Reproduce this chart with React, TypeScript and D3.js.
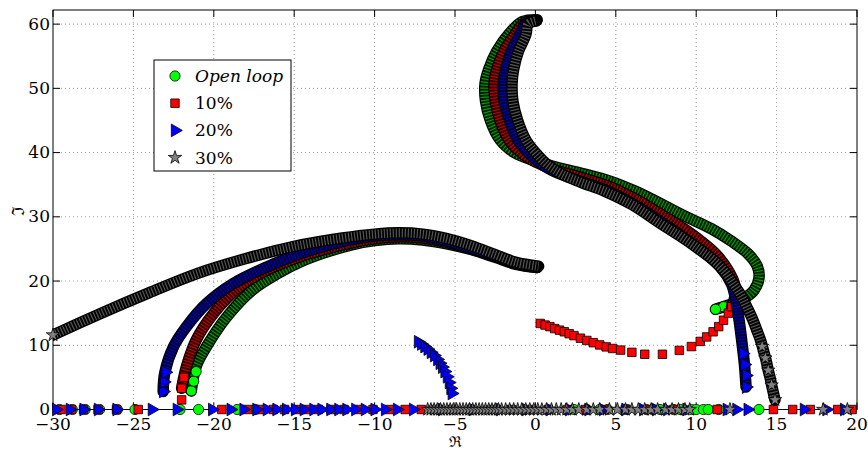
import React from "react";
import * as d3 from "d3";

type Pt = [number, number];

// axes
const xTicks = [-30, -25, -20, -15, -10, -5, 0, 5, 10, 15, 20];
const yTicks = [0, 10, 20, 30, 40, 50, 60];

// ---- Open loop (green circles)
const greenLower: Pt[] = [[-21.4, 2.9], [-21.1, 6.7], [-20.45, 9.8], [-19.2, 14.4], [-17.6, 18.6], [-16, 21.2], [-14.6, 23.0], [-13, 24.5], [-11.5, 25.6], [-10, 26.3], [-8.5, 26.6], [-7, 26.4], [-5.5, 25.8], [-4, 24.9], [-2.5, 23.7], [-1.2, 22.6], [0.1, 22.1]];
const greenUpper: Pt[] = [[0.1, 60.7], [-0.8, 60.4], [-1.6, 58.6], [-2.4, 55.8], [-2.9, 53], [-3.13, 50.8], [-3.1, 48], [-2.8, 45], [-2.2, 42], [-1.3, 40], [0, 38.7], [1.5, 37.6], [3, 36.7], [4.6, 35.6], [6.2, 34.0], [7.75, 32.1], [9.3, 30.1], [10.9, 28.2], [12.2, 26.2], [13.2, 24.3], [13.8, 22.3], [13.9, 20.4], [13.6, 18.6], [13.1, 17.5], [12.4, 16.6], [11.7, 16.0], [11.2, 15.6]];
const greenTips: Pt[] = [[-21.4, 2.9], [-21.25, 4.4], [-21.1, 5.9], [11.7, 16.0], [11.2, 15.6]];
const greenReal = [-29.6, -28.8, -28.0, -27.1, -26.0, -24.9, -22.1, -20.95, -18.55, -17.4, 2.4, 3.2, 4.0, 4.5, 5.7, 6.9, 7.3, 7.75, 8.6, 9.0, 9.7, 10.0, 10.45, 10.75, 11.4, 13.9];

// ---- 10% (red squares)
const redLower: Pt[] = [[-22.0, 3.3], [-21.7, 6.7], [-21.1, 10.8], [-20.0, 15.0], [-18.4, 19.1], [-16.7, 21.7], [-14.6, 23.8], [-13, 25.0], [-11.5, 25.9], [-10, 26.6], [-8.5, 26.9], [-7, 26.7], [-5.5, 26.0], [-4, 25.0], [-2.5, 23.8], [-1.2, 22.7], [0.1, 22.1]];
const redUpper: Pt[] = [[0.1, 60.6], [-0.7, 60.2], [-1.25, 58.5], [-1.95, 55.8], [-2.4, 53], [-2.57, 50.8], [-2.5, 48], [-2.2, 45], [-1.65, 42], [-0.8, 39.8], [0.3, 38.2], [1.5, 37.1], [3, 36.0], [4.6, 34.7], [6.2, 32.8], [7.75, 30.5], [9.2, 28.2], [10.3, 26.2], [11.3, 24.0], [12.0, 21.6], [12.4, 19.4], [12.4, 17.5], [12.2, 16.0]];
const redTips: Pt[] = [[-22.0, 1.5], [-22.0, 3.3], [-21.85, 5.0]];
const redLoop: Pt[] = [[0.3, 13.4], [0.6, 13.15], [0.9, 12.9], [1.2, 12.6], [1.5, 12.35], [1.8, 12.1], [2.1, 11.8], [2.4, 11.5], [2.8, 11.1], [3.2, 10.75], [3.6, 10.4], [4.0, 10.05], [4.4, 9.75], [4.8, 9.5], [5.3, 9.25], [6.0, 8.9], [6.8, 8.6], [7.9, 8.6], [8.95, 9.2], [9.7, 9.8], [10.25, 10.6], [10.65, 11.3], [11.05, 12.1], [11.4, 12.9], [11.7, 13.9], [12.0, 15.0], [12.2, 16.0]];
const redReal = [-29.5, -28.85, -28.1, -27.2, -26.05, -24.7, -19.5, -17.9, -17.0, -16.3, -15.6, -14.9, -14.2, -13.5, -12.7, -11.9, -11.0, -10.1, -9.1, -8.1, -7.1, -6.3, -5.2, -4.0, -2.7, -1.5, -0.4, 0.8, 2.0, 3.1, 4.3, 5.6, 7.0, 8.6, 11.3, 14.8, 16.0, 17.1, 18.8, 19.7];

// ---- 20% (blue triangles)
const blueLower: Pt[] = [[-23.15, 2.8], [-23.05, 5.7], [-22.5, 9.8], [-21.7, 12.9], [-20.45, 16.5], [-18.8, 19.6], [-16.7, 22.2], [-14.6, 24.3], [-13, 25.5], [-11.5, 26.4], [-10, 27.0], [-8.5, 27.2], [-7, 27.0], [-5.5, 26.2], [-4, 25.1], [-2.5, 23.9], [-1.2, 22.8], [0.1, 22.2]];
const blueUpper: Pt[] = [[0.05, 60.5], [-0.6, 60.1], [-0.95, 58.4], [-1.5, 55.8], [-1.85, 53], [-2.0, 50.8], [-1.95, 48], [-1.6, 45], [-1.1, 42], [-0.4, 39.9], [0.5, 38.0], [1.5, 36.7], [3, 35.4], [4.6, 33.9], [6.2, 31.8], [7.75, 29.3], [9.2, 26.8], [10.4, 24.6], [11.5, 22.2], [12.2, 19.5], [12.5, 16.5], [12.7, 13.3], [12.85, 10.3], [13.0, 7.0], [13.1, 3.5]];
const blueTips: Pt[] = [[-23.15, 2.8], [-23.1, 4.3], [-23.0, 5.8], [13.1, 3.5], [13.1, 5.3], [13.0, 7.0], [12.9, 8.7]];
const blueSmall: Pt[] = [[-7.3, 10.55], [-7.1, 10.2], [-6.9, 9.8], [-6.7, 9.4], [-6.5, 8.9], [-6.3, 8.4], [-6.1, 7.8], [-5.95, 7.2], [-5.8, 6.6], [-5.65, 5.9], [-5.5, 5.1], [-5.38, 4.2], [-5.28, 3.3], [-5.2, 2.5]];
const blueReal = [-29.8, -28.95, -28.1, -27.2, -26.05, -23.85, -22.3, -20.1, -18.95, -18.15, -17.35, -16.7, -16.1, -15.5, -14.95, -14.4, -13.8, -13.3, -12.75, -12.25, -11.75, -11.2, -10.6, -10.0, -9.35, -8.6, -7.6, -5.8, -3.9, -2.2, -0.6, 0.9, 2.1, 3.3, 4.2, 5.6, 6.7, 7.5, 8.2, 9.4, 11.9, 12.5, 13.2, 16.7, 18.1, 19.2];

// ---- 30% (grey pentagrams)
const starLower: Pt[] = [[-30.5, 11.0], [-30, 11.6], [-27, 15.0], [-24, 18.2], [-21, 21.2], [-18, 23.5], [-15, 25.4], [-12, 26.7], [-10, 27.3], [-8.5, 27.5], [-7, 27.3], [-5.5, 26.6], [-4, 25.5], [-2.5, 24.1], [-1.2, 22.9], [0.2, 22.3]];
const starUpper: Pt[] = [[0, 60.5], [-0.45, 60], [-0.6, 58.3], [-1.05, 55.8], [-1.35, 53], [-1.45, 50.8], [-1.4, 48], [-1.1, 45], [-0.6, 42], [0.0, 40.0], [0.7, 38.2], [1.6, 36.7], [2.8, 35.4], [4.3, 34.0], [6.0, 31.9], [7.75, 29.0], [9.0, 27.0], [10.1, 25.1], [11.06, 23.3], [11.8, 21.4], [12.3, 19.6], [12.8, 17.7], [13.14, 16.0], [13.5, 14.1], [13.76, 12.4], [14.0, 10.8], [14.17, 9.3], [14.35, 7.6], [14.48, 6.1], [14.6, 4.9], [14.69, 3.8], [14.9, 1.5]];
const starTips: Pt[] = [[-30, 11.6], [14.9, 1.5], [14.69, 3.8], [14.48, 6.1], [14.3, 8.0], [14.1, 9.8]];
const starReal = [-6.7, -6.5, -6.3, -6.1, -5.9, -5.7, -5.5, -5.3, -5.1, -4.9, -4.7, -4.5, -4.3, -4.1, -3.9, -3.7, -3.5, -3.3, -3.1, -2.9, -2.7, -2.5, -2.3, -2.1, -1.85, -1.6, -1.35, -1.1, -0.85, -0.6, -0.35, -0.1, 0.15, 0.4, 0.7, 1.0, 1.3, 1.6, 1.95, 2.3, 2.7, 3.2, 3.6, 4.0, 4.6, 5.1, 5.6, 6.0, 6.4, 6.8, 7.2, 7.6, 8.1, 8.5, 8.9, 9.3, 9.6, 12.1, 17.9, 19.4];

const W = 868;
const H = 452;
const L = 53, R = 857, T = 10, B = 409.5;

const x = d3.scaleLinear().domain([-30, 20]).range([L, R]);
const y = d3.scaleLinear().domain([0, 62.2]).range([B, T]);

const serif = "'DejaVu Serif', serif";

const series = [
  { label: "Open loop", italic: true, type: d3.symbolCircle, size: 82, rot: 0, fill: "#00ff00", base: "#001c00", stripe: "#009a00",
    bands: [greenLower, greenUpper], tips: greenTips, real: greenReal, extra: [] as Pt[][] },
  { label: "10%", italic: false, type: d3.symbolSquare, size: 72, rot: 0, fill: "#ff0000", base: "#2a0000", stripe: "#c00000",
    bands: [redLower, redUpper], tips: redTips, real: redReal, extra: [redLoop] },
  { label: "20%", italic: false, type: d3.symbolTriangle, size: 70, rot: 90, fill: "#0000ff", base: "#00002a", stripe: "#0000b8",
    bands: [blueLower, blueUpper], tips: blueTips, real: blueReal, extra: [blueSmall] },
  { label: "30%", italic: false, type: d3.symbolStar, size: 55, rot: 0, fill: "#808080", base: "#000000", stripe: "#555555",
    bands: [starLower, starUpper], tips: starTips, real: starReal, extra: [] as Pt[][] },
];

const line = d3.line<Pt>().x((d) => x(d[0])).y((d) => y(d[1])).curve(d3.curveCatmullRom.alpha(0.5));

const inside = (p: Pt) => p[0] >= -30.01 && p[0] <= 20.01 && p[1] >= -0.01 && p[1] <= 62.2;

function Marker({ s, p }: { s: (typeof series)[number]; p: Pt }) {
  const d = d3.symbol().type(s.type).size(s.size)() as string;
  return (
    <path d={d} transform={`translate(${x(p[0])},${y(p[1])}) rotate(${s.rot})`}
      fill={s.fill} stroke="#000" strokeWidth={0.8} />
  );
}

export default function App() {
  return (
    <svg width={W} height={H} style={{ position: "absolute", left: 0, top: 0, background: "#fff" }}>
      <defs>
        <clipPath id="plotArea">
          <rect x={L} y={T} width={R - L} height={B - T + 8} />
        </clipPath>
      </defs>

      {/* grid */}
      <g stroke="#9a9a9a" strokeWidth={1} strokeDasharray="1 3">
        {xTicks.slice(1, -1).map((t) => (
          <line key={"gx" + t} x1={x(t)} x2={x(t)} y1={T} y2={B} />
        ))}
        {yTicks.slice(1).map((t) => (
          <line key={"gy" + t} x1={L} x2={R} y1={y(t)} y2={y(t)} />
        ))}
      </g>

      {/* box + ticks */}
      <g stroke="#000" strokeWidth={1} fill="none">
        <rect x={L} y={T} width={R - L} height={B - T} />
        {xTicks.map((t) => (
          <g key={"tx" + t}>
            <line x1={x(t)} x2={x(t)} y1={B} y2={B - 7} />
            <line x1={x(t)} x2={x(t)} y1={T} y2={T + 7} />
          </g>
        ))}
        {yTicks.map((t) => (
          <g key={"ty" + t}>
            <line x1={L} x2={L + 7} y1={y(t)} y2={y(t)} />
            <line x1={R} x2={R - 7} y1={y(t)} y2={y(t)} />
          </g>
        ))}
      </g>

      {/* data */}
      {series.map((s, si) => (
        <g key={"s" + si}>
          <g clipPath="url(#plotArea)" fill="none" strokeLinecap="round" strokeLinejoin="round">
            {s.bands.map((b, bi) => (
              <g key={"b" + bi}>
                <path d={line(b) as string} stroke="#000" strokeWidth={11.5} />
                <path d={line(b) as string} stroke={s.base} strokeWidth={9.5} />
                <path d={line(b) as string} stroke={s.stripe} strokeWidth={9} strokeDasharray="1.2 1.8" strokeLinecap="butt" />
              </g>
            ))}
          </g>
          {s.tips.filter(inside).map((p, i) => <Marker key={"t" + i} s={s} p={p} />)}
          {s.extra.map((arr, ai) => arr.filter(inside).map((p, i) => <Marker key={"e" + ai + "_" + i} s={s} p={p} />))}
          {s.real.map((v) => [v, 0] as Pt).filter(inside).map((p, i) => <Marker key={"r" + i} s={s} p={p} />)}
        </g>
      ))}

      {/* tick labels */}
      <g style={{ fontFamily: serif, fontSize: "17px" }} fill="#000">
        {xTicks.map((t) => (
          <text key={"lx" + t} x={x(t)} y={429.5} textAnchor="middle">{t < 0 ? "\u2212" + Math.abs(t) : t}</text>
        ))}
        {yTicks.map((t) => (
          <text key={"ly" + t} x={L - 3} y={y(t) + 5.5} textAnchor="end">{t}</text>
        ))}
      </g>
      <text x={455} y={446.5} textAnchor="middle" style={{ fontFamily: serif, fontSize: "15px" }}>{"\u211C"}</text>
      <text transform="translate(24,211) rotate(-90)" textAnchor="middle" style={{ fontFamily: serif, fontSize: "17px" }}>{"\u2111"}</text>

      {/* legend */}
      <g>
        <rect x={154} y={60} width={137} height={111} fill="#fff" stroke="#000" strokeWidth={1} />
        {series.map((s, i) => {
          const cy = 76 + i * 27.2;
          const d = d3.symbol().type(s.type).size(s.size)() as string;
          return (
            <g key={"lg" + i}>
              <path d={d} transform={`translate(175,${cy}) rotate(${s.rot})`} fill={s.fill} stroke="#000" strokeWidth={0.8} />
              <text x={195} y={cy + 6} style={{ fontFamily: serif, fontSize: "17px", fontStyle: s.italic ? "italic" : "normal" }}>{s.label}</text>
            </g>
          );
        })}
      </g>
    </svg>
  );
}
